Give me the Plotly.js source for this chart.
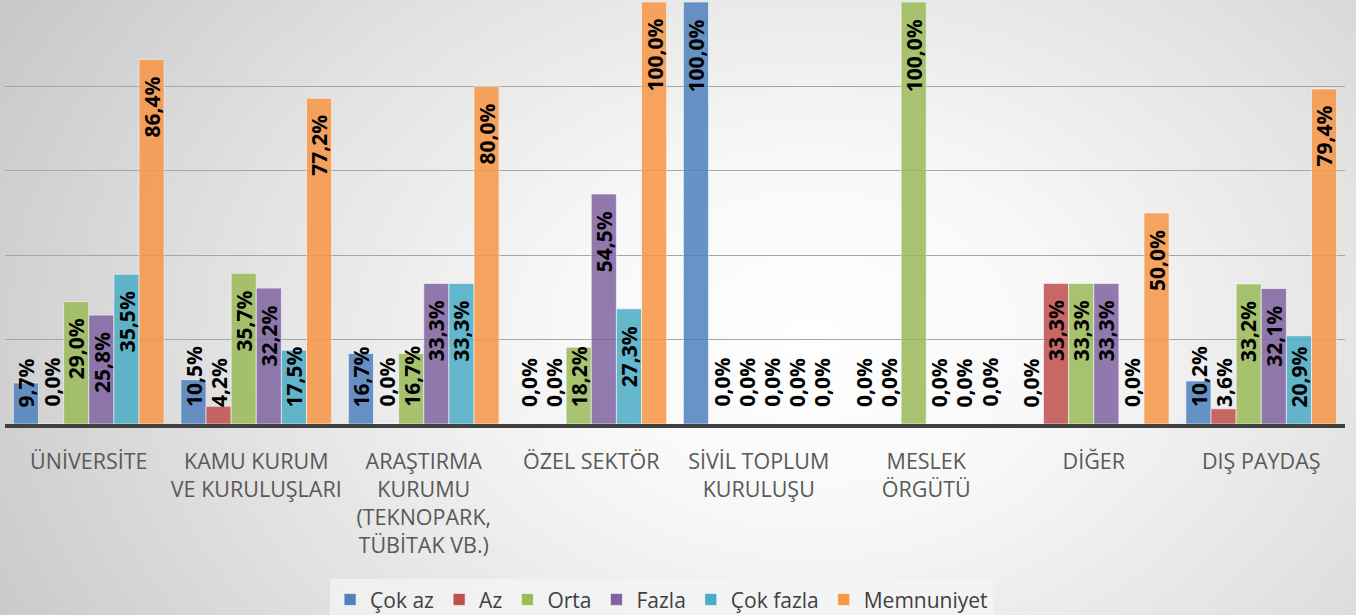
<!DOCTYPE html>
<html>
<head>
<meta charset="utf-8">
<script src="https://cdn.plot.ly/plotly-3.0.1.min.js"></script>
<style>
html,body{margin:0;padding:0;}
#wrap{width:1356px;height:615px;background:radial-gradient(ellipse 72% 115% at 60% 55%, #ffffff 0%, #f8f8f8 25%, #e2e2e2 60%, #c4c4c4 100%);}
#chart{width:1356px;height:615px;}
</style>
</head>
<body>
<div id="wrap"><div id="chart"></div></div>
<script>
const categories = ["ÜNİVERSİTE", "KAMU KURUM<br>VE KURULUŞLARI", "ARAŞTIRMA<br>KURUMU<br>(TEKNOPARK,<br>TÜBİTAK VB.)", "ÖZEL SEKTÖR", "SİVİL TOPLUM<br>KURULUŞU", "MESLEK<br>ÖRGÜTÜ", "DİĞER", "DIŞ PAYDAŞ"];
const seriesNames = ["Çok az", "Az", "Orta", "Fazla", "Çok fazla", "Memnuniyet"];
const cokAz     = [9.7, 10.5, 16.7, 0.0, 100.0, 0.0, 0.0, 10.2];
const az        = [0.0, 4.2, 0.0, 0.0, 0.0, 0.0, 33.3, 3.6];
const orta      = [29.0, 35.7, 16.7, 18.2, 0.0, 100.0, 33.3, 33.2];
const fazla     = [25.8, 32.2, 33.3, 54.5, 0.0, 0.0, 33.3, 32.1];
const cokFazla  = [35.5, 17.5, 33.3, 27.3, 0.0, 0.0, 0.0, 20.9];
const memnuniyet= [86.4, 77.2, 80.0, 100.0, 0.0, 0.0, 50.0, 79.4];
const seriesValues = [cokAz, az, orta, fazla, cokFazla, memnuniyet];
const colors = ["#4F81BD", "#C0504D", "#9BBB59", "#8064A2", "#4BACC6", "#F79646"];

const W = 1356, H = 615;
const margin = {l: 5, r: 11, t: 2, b: 191, autoexpand: false};
const bargap = 0.10;
const labelFont = {family: "Open Sans, sans-serif", size: 21, color: "#000000"};
const xIdx = categories.map((c, i) => i);

function fmt(v){ return v.toFixed(1).replace('.', ',') + '%'; }

const cv = document.createElement('canvas').getContext('2d');
cv.font = 'bold ' + labelFont.size + 'px "Open Sans"';

const traces = seriesValues.map((vals, j) => ({
  type: 'bar',
  name: seriesNames[j],
  x: xIdx,
  y: vals,
  marker: {color: colors[j], opacity: 0.85, line: {color: 'rgba(255,255,255,0.6)', width: 1}},
  hoverinfo: 'skip'
}));

const plotH = H - margin.t - margin.b;
const pxPerUnit = plotH / 100;
const nS = seriesValues.length;
const bw = (1 - bargap) / nS;
const annotations = [];
seriesValues.forEach((vals, j) => {
  vals.forEach((v, i) => {
    const t = fmt(v);
    const L = cv.measureText(t).width;
    const xc = i - (1 - bargap) / 2 + (j + 0.5) * bw;
    const fits = v * pxPerUnit - 16 - L >= 16;
    annotations.push(fits ? {
      x: xc, y: v, xref: 'x', yref: 'y', text: '<b>' + t + '</b>', textangle: -90,
      showarrow: false, yanchor: 'top', xanchor: 'center', yshift: -15, font: labelFont
    } : {
      x: xc, y: 0, xref: 'x', yref: 'y', text: '<b>' + t + '</b>', textangle: -90,
      showarrow: false, yanchor: 'bottom', xanchor: 'center', yshift: 15, font: labelFont
    });
  });
});

const layout = {
  width: W, height: H,
  margin: margin,
  paper_bgcolor: 'rgba(0,0,0,0)',
  plot_bgcolor: 'rgba(0,0,0,0)',
  barmode: 'group',
  bargap: bargap,
  bargroupgap: 0,
  showlegend: true,
  legend: {
    orientation: 'h', x: 0.49, xanchor: 'center', y: -0.368, yanchor: 'top',
    font: {family: "Open Sans, sans-serif", size: 21, color: '#404040'},
    bgcolor: 'rgba(245,245,245,0.7)', itemwidth: 20, traceorder: 'normal'
  },
  xaxis: {
    range: [-0.5, 7.5], tickmode: 'array', tickvals: xIdx, ticktext: categories,
    showgrid: false, zeroline: false, showline: true, linecolor: '#404040', linewidth: 4,
    ticks: '', ticklabelstandoff: 15,
    tickfont: {family: "Open Sans, sans-serif", size: 21.5, color: '#595959'},
    fixedrange: true
  },
  yaxis: {
    range: [0, 100], dtick: 20, showticklabels: false, showgrid: true, gridcolor: '#a6a6a6', gridwidth: 1,
    zeroline: false, showline: false, ticks: '', fixedrange: true
  },
  annotations: annotations,
  font: {family: "Open Sans, sans-serif"}
};

Plotly.newPlot('chart', traces, layout, {displayModeBar: false, staticPlot: true});
</script>
</body>
</html>
